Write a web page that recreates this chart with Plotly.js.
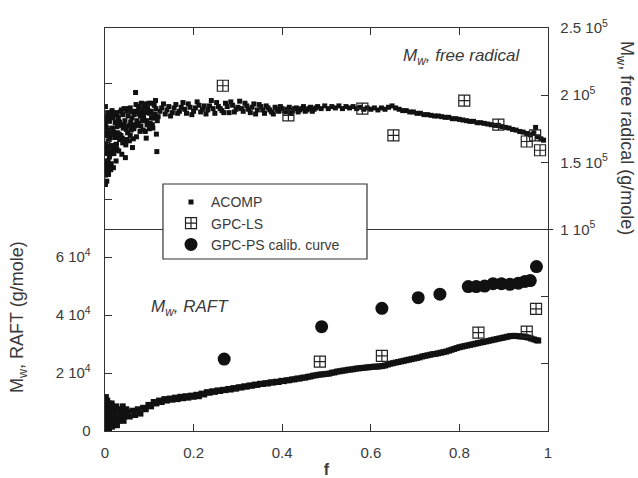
<!DOCTYPE html>
<html><head><meta charset="utf-8">
<script src="https://cdn.plot.ly/plotly-3.0.1.min.js"></script>
<style>html,body{margin:0;padding:0;background:#fff}#chart{width:638px;height:478px}</style>
</head><body><div id="chart"></div>
<script>
// ---- ACOMP, free radical (right axis) : noisy start ----
const acompFreeStartF = [0.001,0.001,0.002,0.001,0.002,0.001,0.002,0.001,0.002,0.001,
 0.004,0.005,0.004,0.005,0.006,0.004,0.006,0.005,0.006,
 0.008,0.009,0.010,0.008,0.011,0.009,0.010,0.012,
 0.013,0.014,0.015,0.014,0.016,0.015,0.017,0.016,
 0.019,0.020,0.021,0.022,0.020,0.023,0.021,
 0.025,0.027,0.026,0.028,0.027,0.029,0.026,
 0.031,0.033,0.032,0.034,0.033,0.035,
 0.038,0.040,0.039,0.041,0.042,0.040,0.043,
 0.046,0.047,0.049,0.048,0.050,0.052,0.049,
 0.055,0.057,0.056,0.058,0.060,0.057,
 0.062,0.064,0.065,0.063,0.066,0.068,0.069,
 0.071,0.073,0.072,0.074,0.076,
 0.079,0.081,0.080,0.083,0.082,
 0.086,0.088,0.087,0.090,0.089,
 0.093,0.095,0.094,0.097,0.096,
 0.100,0.102,0.101,0.104,0.106,
 0.108,0.110,0.112,0.111,0.114,
 0.116,0.117,0.118];
const acompFreeStartMw = [133500,140500,144000,151000,159500,164000,171500,179000,183500,191500,
 136000,143500,148000,156500,161500,170000,174000,182500,187000,
 141000,145500,154000,158500,168000,171500,180500,184000,
 144500,149000,158000,162500,171000,175500,183000,188500,
 146000,156500,160000,168500,172000,179500,185500,
 151000,159500,163500,172000,176500,183500,187000,
 158500,167000,171000,177500,180000,187500,
 156000,164500,168000,175500,178000,185500,190000,
 153500,163000,167000,174500,177000,184500,188000,
 166000,170000,177500,180000,187500,190500,
 161000,167500,175000,178000,185500,188000,202000,
 169000,177500,181000,188000,191500,
 173000,177000,184500,187000,194000,
 174000,181500,184000,191000,193500,
 168000,178000,181000,188500,190500,
 175000,179000,186500,188000,194000,
 175500,183000,186000,192500,196000,
 171000,158000,181000];
const acompFreeStart2F = [0.003,0.003,0.003,0.007,0.007,0.007,0.011,0.012,0.013,0.018,0.018,0.019,
 0.024,0.024,0.030,0.030,0.036,0.037,0.044,0.045,0.051,0.053,0.059,0.061,0.067,0.070,
 0.075,0.077,0.084,0.085,0.091,0.092,0.098,0.099,0.105,0.107,0.113,0.115];
const acompFreeStart2Mw = [147000,162000,176000,151000,166000,184000,156000,171000,187000,160000,175000,186000,
 163000,180000,169000,183000,170000,189000,166000,181000,172000,190000,174000,183000,177000,193000,
 179000,186000,181000,190000,173000,187000,179000,194000,183000,178000,185000,190000];
// ---- ACOMP, free radical : band ----
const acompFreeBandF = [0.120,0.128,0.136,0.144,0.152,0.160,0.168,0.176,0.184,0.192,
 0.200,0.208,0.216,0.224,0.232,0.240,0.248,0.256,0.264,0.272,
 0.280,0.288,0.296,0.304,0.312,0.320,0.328,0.336,0.344,0.352,
 0.360,0.368,0.376,0.384,0.392,0.400,0.408,0.416,0.424,0.432,
 0.440,0.448,0.456,0.464,0.472,0.480,0.488,0.496,0.504,0.512,
 0.520,0.528,0.536,0.544,0.552,0.560,0.568,0.576,0.584,0.592,
 0.600,0.608,0.616,0.624,0.632,0.640,0.648,0.656,0.664,0.672,
 0.680,0.688,0.696,0.704,0.712,0.720,0.728,0.736,0.744,0.752,
 0.760,0.768,0.776,0.784,0.792,0.800,0.808,0.816,0.824,0.832,
 0.840,0.848,0.856,0.864,0.872,0.880,0.888,0.896,0.904,0.912,
 0.920,0.928,0.936,0.944,0.952,0.960,0.968,0.972,0.976,0.984,0.990,
 0.124,0.132,0.140,0.148,0.156,0.164,0.172,0.180,0.188,0.196,
 0.204,0.212,0.220,0.228,0.236,0.244,0.252,0.260,0.268,0.276,
 0.284,0.292,0.300,0.308,0.316,0.324,0.332,0.340,0.348,0.356,
 0.364,0.372,0.380,0.388,0.396,0.404,0.412,0.420,0.428,0.436,
 0.444,0.452,0.460,0.468,0.476];
const acompFreeBandMw = [184000,190500,186000,191500,187000,193000,188000,194500,186500,191000,
 188000,195000,187500,192000,189000,196000,186500,191500,188500,194000,
 187000,192500,189500,195500,188000,192000,187000,193500,189000,191500,
 186500,190500,187500,191000,188000,190000,187500,191000,188500,190500,
 189000,191500,189000,191000,189500,191500,190000,192000,190000,191500,
 190500,192000,190000,191500,190500,191500,190000,191000,189500,190500,
 189500,190500,189000,190500,189500,191000,192000,190500,189500,188500,
 188500,187500,187500,186500,186500,185500,185500,185000,184500,184500,
 184000,183500,183500,182500,182500,182000,181500,181000,180500,180500,
 179500,179500,179000,178500,178000,177500,177500,176500,176000,175500,
 174500,174000,173000,172500,171500,170500,172000,176000,169000,167500,166500,
 188000,193500,189000,184500,190500,186500,191000,189500,193500,185500,
 190500,192500,189500,186000,192000,190000,194500,190000,187000,191500,
 195000,187500,191000,190000,194000,189500,191000,186000,193000,189000,
 192000,189000,186000,189500,191500,188500,189500,186500,190000,187500,
 190000,188000,190000,188000,190500];
// ---- ACOMP, RAFT (left axis) ----
const acompRaftStartF = [0.001,0.002,0.001,0.002,0.001,0.003,0.002,0.001,0.002,
 0.004,0.006,0.005,0.007,0.004,0.006,0.008,0.005,
 0.009,0.011,0.010,0.013,0.012,0.014,0.015,
 0.016,0.018,0.020,0.022,0.024,0.025,
 0.027,0.030,0.032,0.035,0.038,0.040,
 0.042,0.044,0.046,0.048];
const acompRaftStartMw = [0,1500,3000,4500,6000,7500,9000,10500,11700,
 500,2000,3500,5000,6500,8000,9500,10500,
 800,2500,4000,5500,7000,8500,9500,
 1500,3000,4500,6000,7500,8500,
 2000,3500,5000,6500,7500,8500,
 3500,5000,6000,7500];
const acompRaftBandF = [0.050,0.056,0.062,0.068,0.074,0.080,0.086,0.092,0.098,0.104,
 0.110,0.116,0.122,0.128,0.134,0.140,0.146,0.152,0.158,0.164,
 0.170,0.176,0.182,0.188,0.194,0.200,0.206,0.212,0.218,0.224,
 0.230,0.236,0.242,0.248,0.254,0.260,0.266,0.272,0.278,0.284,
 0.290,0.296,0.302,0.308,0.314,0.320,0.326,0.332,0.338,0.344,
 0.350,0.356,0.362,0.368,0.374,0.380,0.386,0.392,0.398,0.404,
 0.410,0.416,0.422,0.428,0.434,0.440,0.446,0.452,0.458,0.464,
 0.470,0.476,0.482,0.488,0.494,0.500,0.506,0.512,0.518,0.524,
 0.530,0.536,0.542,0.548,0.554,0.560,0.566,0.572,0.578,0.584,
 0.590,0.596,0.602,0.608,0.614,0.620,0.626,0.632,0.638,0.644,
 0.650,0.656,0.662,0.668,0.674,0.680,0.686,0.692,0.698,0.704,
 0.710,0.716,0.722,0.728,0.734,0.740,0.746,0.752,0.758,0.764,
 0.770,0.776,0.782,0.788,0.794,0.800,0.806,0.812,0.818,0.824,
 0.830,0.836,0.842,0.848,0.854,0.860,0.866,0.872,0.878,0.884,
 0.890,0.896,0.902,0.908,0.914,0.920,0.926,0.932,0.938,0.944,
 0.950,0.956,0.962,0.968,0.974,0.978];
const acompRaftBandMw = [6500,5000,7000,5500,7500,6000,8000,7500,9000,8500,
 10000,9500,10500,10000,11000,10500,11200,10800,11500,11000,
 11800,11300,12000,11500,12200,11800,12500,12000,12900,12600,
 13400,13200,13700,13500,14000,13800,14200,14100,14500,14300,
 14800,14600,15100,15000,15400,15300,15700,15600,16000,15900,
 16300,16200,16500,16400,16800,16700,17000,16900,17300,17200,
 17500,17500,17800,17800,18100,18100,18400,18400,18700,18800,
 19100,19200,19400,19500,19600,19700,19800,20100,20200,20500,
 20600,20800,20900,21100,21200,21300,21500,21600,21700,21800,
 21900,22000,22100,22200,22200,22300,22400,22600,22900,23200,
 23400,23600,23800,24000,24200,24400,24600,24800,25000,25200,
 25400,25700,25900,26100,26300,26500,26600,26800,27000,27200,
 27400,27700,28000,28300,28600,28900,29100,29300,29500,29700,
 29900,30100,30300,30500,30700,30900,31100,31300,31500,31700,
 31900,32100,32300,32500,32700,32800,32800,32700,32600,32600,
 32400,32200,31900,31600,31300,31200];
// ---- GPC-LS ----
const gpcLsFreeF = [0.266,0.414,0.581,0.651,0.811,0.888,0.952,0.971,0.982];
const gpcLsFreeMw = [207000,185000,190000,170000,196000,178000,165500,170000,159000];
const gpcLsRaftF = [0.485,0.625,0.843,0.952,0.973];
const gpcLsRaftMw = [23900,25900,33900,34300,42100];
// ---- GPC-PS calib. curve ----
const gpcPsF = [0.269,0.489,0.625,0.707,0.756,0.820,0.838,0.857,0.876,0.895,0.914,0.933,0.948,0.960,0.974];
const gpcPsMw = [24800,36000,42300,46000,47200,49800,49800,50000,50800,50800,50600,51000,51600,51900,56700];
// ---- tick labels ----
const xTickVals = [0, 0.2, 0.4, 0.6, 0.8, 1];
const xTickText = ['0', '0.2', '0.4', '0.6', '0.8', '1'];
const raftTickVals = [0, 20000, 40000, 60000];
const raftTickText = ['0', '2 10<sup>4</sup>', '4 10<sup>4</sup>', '6 10<sup>4</sup>'];
const freeTickVals = [100000, 150000, 200000, 250000];
const freeTickText = ['1 10<sup>5</sup>', '1.5 10<sup>5</sup>', '2 10<sup>5</sup>', '2.5 10<sup>5</sup>'];

const ink = '#111';
const txt = '#3a3a3a';
const FONT = 'Arial, "Liberation Sans", sans-serif';
const lsMarker = {symbol: 'square-cross-open', size: 11, color: '#222', line: {width: 1.2, color: '#222'}};

const traces = [
  {x: acompFreeStartF.concat(acompFreeStart2F, acompFreeBandF),
   y: acompFreeStartMw.concat(acompFreeStart2Mw, acompFreeBandMw),
   yaxis: 'y2', type: 'scatter', mode: 'markers', name: 'ACOMP', showlegend: true,
   marker: {symbol: 'square', size: 5, color: ink}},
  {x: acompRaftStartF.concat(acompRaftBandF), y: acompRaftStartMw.concat(acompRaftBandMw),
   yaxis: 'y', type: 'scatter', mode: 'markers', name: 'ACOMP', showlegend: false,
   marker: {symbol: 'square', size: 6, color: ink}},
  {x: gpcLsFreeF, y: gpcLsFreeMw, yaxis: 'y2', type: 'scatter', mode: 'markers', name: 'GPC-LS',
   showlegend: true, marker: lsMarker},
  {x: gpcLsRaftF, y: gpcLsRaftMw, yaxis: 'y', type: 'scatter', mode: 'markers', name: 'GPC-LS',
   showlegend: false, marker: lsMarker},
  {x: gpcPsF, y: gpcPsMw, yaxis: 'y', type: 'scatter', mode: 'markers', name: 'GPC-PS calib. curve',
   showlegend: true, marker: {symbol: 'circle', size: 13, color: ink}}
];

const tickStyle = {ticks: 'inside', ticklen: 7, tickwidth: 1, tickcolor: '#333',
  showline: true, linecolor: '#333', linewidth: 1.3, showgrid: false, zeroline: false,
  tickfont: {size: 15, color: txt}};

const layout = {
  width: 638, height: 478,
  margin: {l: 105, r: 90, t: 28, b: 47, pad: 0},
  paper_bgcolor: '#fff', plot_bgcolor: '#fff',
  font: {family: FONT, color: txt, size: 15},
  showlegend: true,
  legend: {x: 0.149, y: 0.607, xanchor: 'left', yanchor: 'top', bgcolor: 'rgba(0,0,0,0)',
           borderwidth: 0, font: {size: 14, color: txt, family: FONT}, traceorder: 'normal'},
  xaxis: Object.assign({}, tickStyle, {range: [0, 1], tickmode: 'array', tickvals: xTickVals, ticktext: xTickText,
          mirror: 'ticks', ticklabelstandoff: 8,
          title: {text: '<b>f</b>', font: {size: 16, color: txt}, standoff: 3}}),
  yaxis: Object.assign({}, tickStyle, {range: [0, 139000], tickmode: 'array',
          tickvals: raftTickVals, ticktext: raftTickText, mirror: false, ticklabelstandoff: 10,
          minor: {tick0: 0, dtick: 20000, ticks: 'inside', ticklen: 7, tickwidth: 1, tickcolor: '#333', showgrid: false}}),
  yaxis2: Object.assign({}, tickStyle, {range: [-50000, 250000], overlaying: 'y', side: 'right', tickmode: 'array',
          tickvals: freeTickVals, ticktext: freeTickText, ticklabelstandoff: 8,
          minor: {tick0: 0, dtick: 50000, ticks: 'inside', ticklen: 7, tickwidth: 1, tickcolor: '#333', showgrid: false}}),
  shapes: [
    {type: 'line', xref: 'paper', yref: 'y2', x0: 0, x1: 1.012, y0: 100000, y1: 100000,
     line: {color: '#333', width: 1.2}, layer: 'above'},
    {type: 'rect', xref: 'paper', yref: 'paper', x0: 0.1309, x1: 0.5914, y0: 0.4268, y1: 0.6129,
     fillcolor: '#fff', line: {color: '#333', width: 1.2}, layer: 'above'}
  ],
  annotations: [
    {xref: 'paper', yref: 'paper', x: 0.806, y: 0.928, xanchor: 'center', yanchor: 'middle', showarrow: false,
     text: '<i>M<sub>w</sub>, free radical</i>', font: {size: 17, color: txt}},
    {xref: 'paper', yref: 'paper', x: 0.192, y: 0.305, xanchor: 'center', yanchor: 'middle', showarrow: false,
     text: '<i>M<sub>w</sub>, RAFT</i>', font: {size: 17, color: txt}},
    {xref: 'paper', yref: 'paper', x: -0.194, y: 0.283, xanchor: 'center', yanchor: 'middle', showarrow: false, textangle: -90,
     text: 'M<sub>w</sub>, RAFT (g/mole)', font: {size: 18, color: txt}},
    {xref: 'paper', yref: 'paper', x: 1.176, y: 0.727, xanchor: 'center', yanchor: 'middle', showarrow: false, textangle: 90,
     text: 'M<sub>w</sub>, free radical (g/mole)', font: {size: 18, color: txt}}
  ]
};

Plotly.newPlot('chart', traces, layout, {displayModeBar: false, staticPlot: true});
</script>
</body></html>
